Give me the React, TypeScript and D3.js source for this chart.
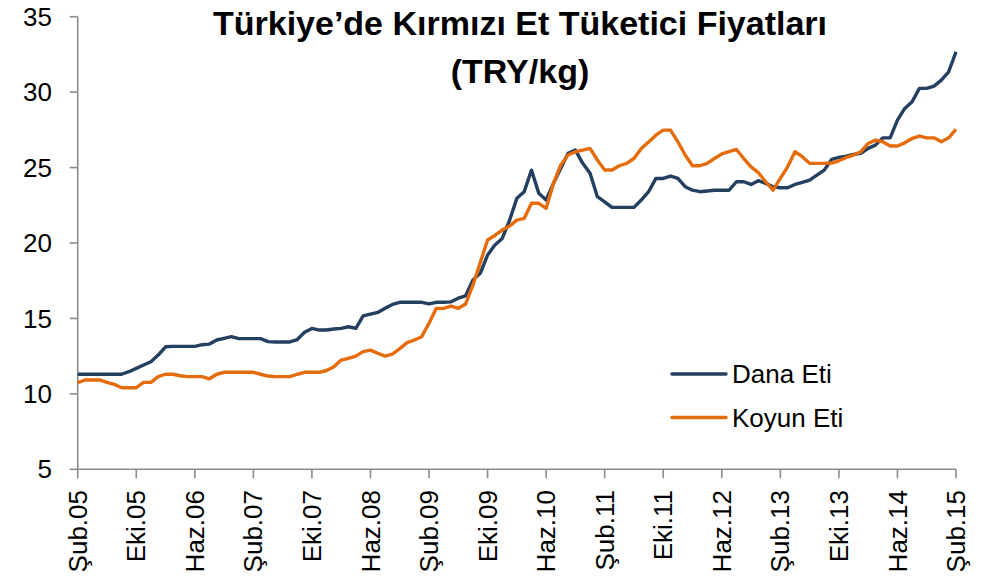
import React from "react";
import * as d3 from "d3";

const tickLabels = [
  "Şub.05", "Eki.05", "Haz.06", "Şub.07", "Eki.07", "Haz.08", "Şub.09", "Eki.09",
  "Haz.10", "Şub.11", "Eki.11", "Haz.12", "Şub.13", "Eki.13", "Haz.14", "Şub.15",
];
const yTicks = [5, 10, 15, 20, 25, 30, 35];

// Monthly values, Feb 2005 .. Feb 2015
const danaEti = [
  11.3, 11.3, 11.3, 11.3, 11.3, 11.3, 11.3, 11.47, 11.69, 11.91,
  12.13, 12.57, 13.12, 13.15, 13.15, 13.15, 13.15, 13.26, 13.3, 13.57,
  13.68, 13.79, 13.66, 13.66, 13.66, 13.66, 13.46, 13.44, 13.44, 13.44,
  13.6, 14.08, 14.34, 14.23, 14.23, 14.3, 14.34, 14.45, 14.34, 15.17,
  15.29, 15.4, 15.67, 15.93, 16.07, 16.07, 16.07, 16.07, 15.96, 16.07,
  16.07, 16.1, 16.34, 16.5, 17.55, 17.99, 19.2, 19.86, 20.3, 21.5,
  22.96, 23.4, 24.83, 23.29, 22.85, 23.95, 24.95, 25.94, 26.16, 25.28,
  24.62, 23.07, 22.73, 22.36, 22.36, 22.36, 22.36, 22.85, 23.4, 24.28,
  24.28, 24.44, 24.28, 23.73, 23.5, 23.4, 23.45, 23.5, 23.5, 23.5,
  24.06, 24.06, 23.88, 24.13, 23.95, 23.73, 23.66, 23.66, 23.88, 24.02,
  24.17, 24.5, 24.83, 25.54, 25.67, 25.76, 25.87, 25.94, 26.27, 26.49,
  26.97, 26.97, 28.15, 28.92, 29.36, 30.25, 30.25, 30.4, 30.8, 31.35,
  32.67,
];
const koyunEti = [
  10.74, 10.92, 10.92, 10.92, 10.76, 10.63, 10.41, 10.41, 10.41, 10.76,
  10.76, 11.14, 11.3, 11.3, 11.2, 11.14, 11.14, 11.14, 11.0, 11.3,
  11.43, 11.43, 11.43, 11.43, 11.43, 11.3, 11.18, 11.14, 11.14, 11.14,
  11.3, 11.43, 11.43, 11.43, 11.55, 11.8, 12.24, 12.35, 12.5, 12.8,
  12.9, 12.69, 12.5, 12.64, 13.0, 13.4, 13.57, 13.79, 14.68, 15.67,
  15.67, 15.82, 15.67, 15.96, 17.2, 18.7, 20.2, 20.5, 20.86, 21.12,
  21.52, 21.63, 22.63, 22.63, 22.3, 23.95, 25.17, 25.83, 26.05, 26.16,
  26.27, 25.5, 24.84, 24.84, 25.12, 25.28, 25.6, 26.27, 26.7, 27.15,
  27.48, 27.48, 26.7, 25.83, 25.12, 25.12, 25.28, 25.6, 25.9, 26.05,
  26.2, 25.6, 25.05, 24.66, 24.06, 23.5, 24.28, 25.05, 26.05, 25.72,
  25.28, 25.28, 25.28, 25.3, 25.45, 25.67, 25.83, 26.05, 26.6, 26.82,
  26.71, 26.43, 26.43, 26.64, 26.93, 27.09, 26.97, 26.97, 26.71, 26.97,
  27.53,
];
const seriesNames = ["Dana Eti", "Koyun Eti"];
const seriesColors = ["#243F60", "#E46C0A"];

const W = 991;
const H = 581;
const FONT = "'Liberation Sans', Arial, sans-serif";

export default function App() {
  const x = d3.scaleLinear().domain([0, danaEti.length - 1]).range([77.7, 956]);
  const y = d3.scaleLinear().domain([5, 35]).range([469.3, 16.7]);
  const line = d3
    .line<number>()
    .x((_, i) => x(i))
    .y((d) => y(d));
  const axisColor = "#8c8c8c";
  const tickIdx = tickLabels.map((_, i) => i * 8);
  const series = [danaEti, koyunEti];

  return (
    <svg
      width={W}
      height={H}
      style={{ position: "absolute", left: 0, top: 0, background: "#fff" }}
      fontFamily={FONT}
    >
      <text x={520} y={35} textAnchor="middle" fontSize={34} fontWeight="bold" fill="#000">
        Türkiye’de Kırmızı Et Tüketici Fiyatları
      </text>
      <text x={520} y={83} textAnchor="middle" fontSize={34} fontWeight="bold" fill="#000">
        (TRY/kg)
      </text>

      {/* y axis */}
      <line x1={x(0)} x2={x(0)} y1={y(35)} y2={y(5)} stroke={axisColor} strokeWidth={1.6} />
      {yTicks.map((t) => (
        <g key={t}>
          <line x1={x(0) - 8} x2={x(0)} y1={y(t)} y2={y(t)} stroke={axisColor} strokeWidth={1.6} />
          <text x={52} y={y(t)} dy="0.35em" textAnchor="end" fontSize={26} fill="#000">
            {t}
          </text>
        </g>
      ))}

      {/* x axis */}
      <line x1={x(0)} x2={x(120)} y1={y(5)} y2={y(5)} stroke={axisColor} strokeWidth={1.6} />
      {tickIdx.map((ti, k) => (
        <g key={ti}>
          <line x1={x(ti)} x2={x(ti)} y1={y(5)} y2={y(5) + 9} stroke={axisColor} strokeWidth={1.6} />
          <text
            transform={`translate(${x(ti)},490) rotate(-90)`}
            dy="0.35em"
            textAnchor="end"
            fontSize={26}
            fill="#000"
          >
            {tickLabels[k]}
          </text>
        </g>
      ))}

      {/* series */}
      {series.map((s, k) => (
        <path
          key={k}
          d={line(s) || ""}
          fill="none"
          stroke={seriesColors[k]}
          strokeWidth={3.4}
          strokeLinejoin="round"
        />
      ))}

      {/* legend */}
      {seriesNames.map((n, k) => (
        <g key={n}>
          <line
            x1={672}
            x2={726}
            y1={374 + k * 43.5}
            y2={374 + k * 43.5}
            stroke={seriesColors[k]}
            strokeWidth={3.4}
            strokeLinecap="round"
          />
          <text x={732} y={374 + k * 43.5} dy="0.35em" fontSize={26} fill="#000">
            {n}
          </text>
        </g>
      ))}
    </svg>
  );
}
